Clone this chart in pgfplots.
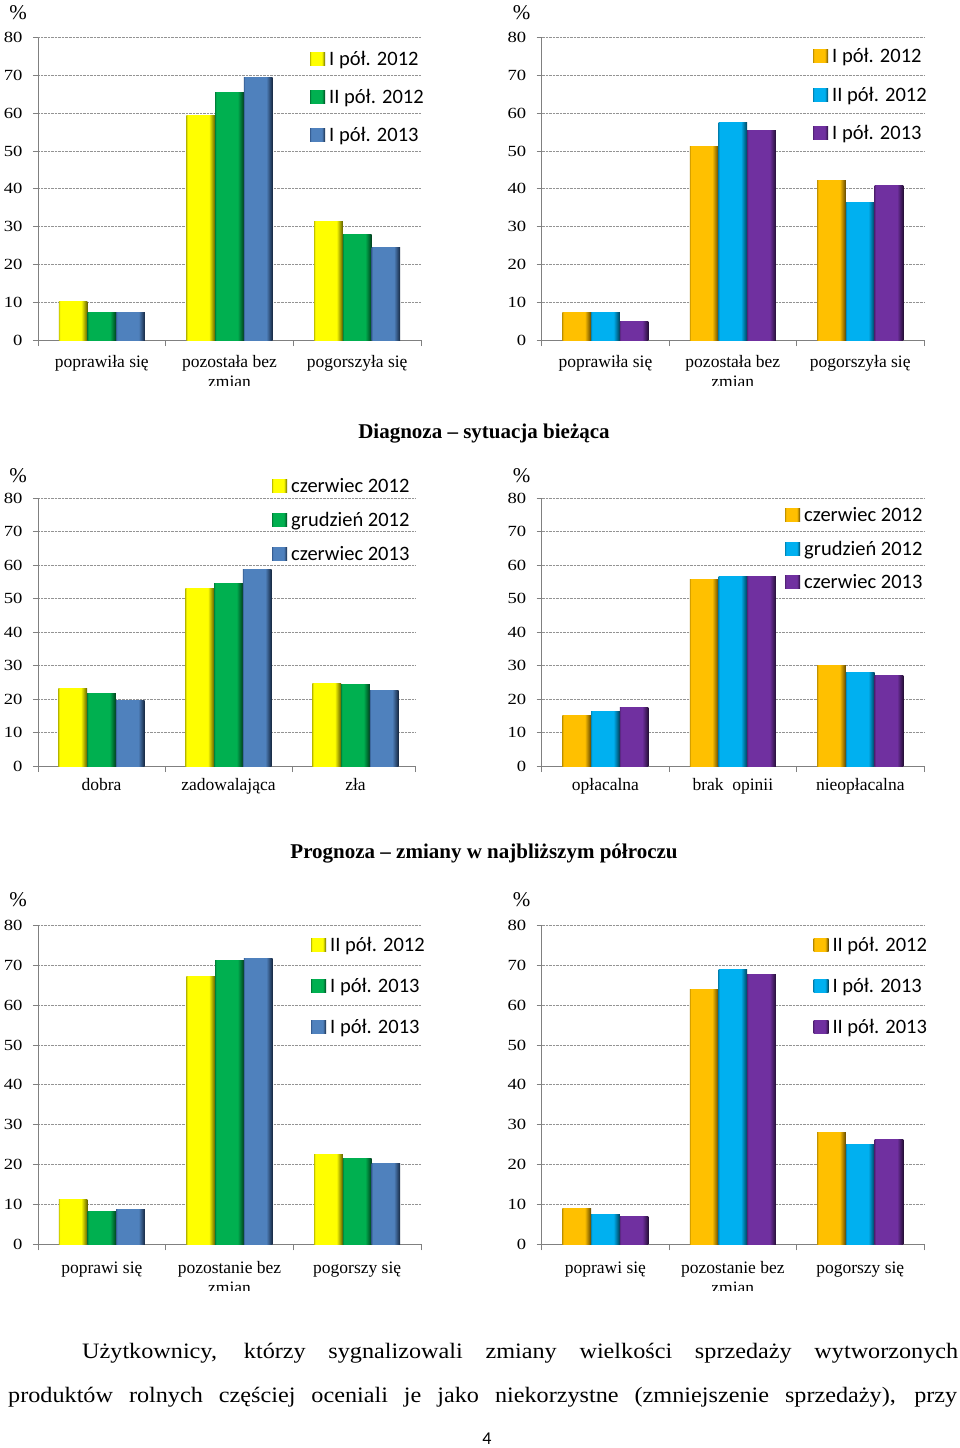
\documentclass[border=0pt]{standalone}
\usepackage{pgfplots}
\pgfplotsset{compat=1.18}
\usepackage{fontspec}
\setmainfont{Liberation Serif}
\newfontfamily\calib{Carlito}
\newfontfamily\wideserif[FakeStretch=1.2]{Liberation Serif}
\newfontfamily\textserif[FakeStretch=1.1]{Liberation Serif}

\definecolor{yB}{HTML}{FFFF00}\definecolor{yE}{HTML}{C8C800}\definecolor{yD}{HTML}{5E5E00}
\definecolor{gB}{HTML}{00B050}\definecolor{gE}{HTML}{00853C}\definecolor{gD}{HTML}{003F1C}
\definecolor{bB}{HTML}{4F81BD}\definecolor{bE}{HTML}{3A6399}\definecolor{bD}{HTML}{15263F}
\definecolor{oB}{HTML}{FFC000}\definecolor{oE}{HTML}{CC9A00}\definecolor{oD}{HTML}{5E4500}
\definecolor{cB}{HTML}{00B0F0}\definecolor{cE}{HTML}{008CC0}\definecolor{cD}{HTML}{003F58}
\definecolor{pB}{HTML}{7030A0}\definecolor{pE}{HTML}{58257E}\definecolor{pD}{HTML}{240E35}

\pgfdeclarehorizontalshading{shY}{100bp}{color(0bp)=(yE); color(25bp)=(yE); color(27bp)=(yB); color(64bp)=(yB); color(75bp)=(yD); color(100bp)=(yD)}
\pgfdeclarehorizontalshading{shG}{100bp}{color(0bp)=(gE); color(25bp)=(gE); color(27bp)=(gB); color(64bp)=(gB); color(75bp)=(gD); color(100bp)=(gD)}
\pgfdeclarehorizontalshading{shB}{100bp}{color(0bp)=(bE); color(25bp)=(bE); color(27bp)=(bB); color(64bp)=(bB); color(75bp)=(bD); color(100bp)=(bD)}
\pgfdeclarehorizontalshading{shO}{100bp}{color(0bp)=(oE); color(25bp)=(oE); color(27bp)=(oB); color(64bp)=(oB); color(75bp)=(oD); color(100bp)=(oD)}
\pgfdeclarehorizontalshading{shC}{100bp}{color(0bp)=(cE); color(25bp)=(cE); color(27bp)=(cB); color(64bp)=(cB); color(75bp)=(cD); color(100bp)=(cD)}
\pgfdeclarehorizontalshading{shP}{100bp}{color(0bp)=(pE); color(25bp)=(pE); color(27bp)=(pB); color(64bp)=(pB); color(75bp)=(pD); color(100bp)=(pD)}

\newcommand\legfont{\calib\fontsize{20.5bp}{22bp}\selectfont}

\pgfplotsset{
  bY/.style={draw=none, shade, shading=shY},
  bG/.style={draw=none, shade, shading=shG},
  bB/.style={draw=none, shade, shading=shB},
  bO/.style={draw=none, shade, shading=shO},
  bC/.style={draw=none, shade, shading=shC},
  bP/.style={draw=none, shade, shading=shP},
  chart/.style={
    scale only axis,
    ymin=0, ymax=80, ytick={0,10,...,80},
    xmin=-0.5, xmax=2.5,
    xtick={0,1,2},
    minor xtick={-0.5,0.5,1.5,2.5},
    axis x line*=bottom, axis y line*=left,
    tick align=outside,
    major tick length=5bp, minor tick length=6bp,
    tick style={gray, line width=0.8bp},
    major x tick style={draw=none},
    axis line style={gray, line width=0.8bp},
    ymajorgrids, major grid style={densely dotted, gray!85, line width=0.7bp},
    ybar=0pt, bar width=28.7bp,
    /pgf/number format/assume math mode=true,
    yticklabel style={font=\wideserif\fontsize{15.5bp}{16bp}\selectfont, xshift=-7bp},
    xticklabel style={font=\fontsize{17.5bp}{19.5bp}\selectfont, align=center},
    ylabel={\%},
    ylabel style={rotate=-90, at={(axis description cs:0,1)}, anchor=center, xshift=-20bp, font=\fontsize{21bp}{21bp}\selectfont},
    legend cell align=left,
    legend style={draw=none, fill=none, at={(axis description cs:0,1)}, anchor=north west, inner sep=0pt, column sep=4bp, font=\legfont,
      nodes={inner sep=0pt, anchor=base west, text height=13bp, text depth=4bp}},
    legend image code/.code={\path[##1, draw=none] (0bp,0bp) rectangle (15bp,13bp);},
  },
}

\newcommand\trio[5]{%
  \addplot[#1, bar shift=#2] coordinates {(0,#3)};
  \addplot[#1, bar shift=#2, forget plot] coordinates {(1,#4)};
  \addplot[#1, bar shift=#2, forget plot] coordinates {(2,#5)};
}

\begin{document}
\begin{tikzpicture}
\useasboundingbox (0bp,0bp) rectangle (960bp,-1448bp);

% ---------- Row 1 ----------
\begin{scope}
\clip (0bp,0bp) rectangle (960bp,-385bp);
\begin{axis}[chart, at={(38bp,-340bp)}, anchor=south west, width=383bp, height=302.5bp,
  xticklabels={poprawiła się, {pozostała bez\\zmian}, pogorszyła się},
  xticklabel style={yshift=-7bp},
  legend entries={I pół. 2012, II pół. 2012, I pół. 2013},
  legend style={xshift=272bp, yshift=-15bp, row sep=20.7bp},
  ylabel style={yshift=25bp}]
\trio{bY}{-28.7bp}{10.3}{59.5}{31.3}
\trio{bG}{0bp}{7.3}{65.5}{27.9}
\trio{bB}{28.7bp}{7.3}{69.3}{24.5}
\end{axis}
\begin{axis}[chart, at={(541.7bp,-340bp)}, anchor=south west, width=382.3bp, height=302.5bp,
  xticklabels={poprawiła się, {pozostała bez\\zmian}, pogorszyła się},
  xticklabel style={yshift=-7bp},
  legend entries={I pół. 2012, II pół. 2012, I pół. 2013},
  legend style={xshift=271.3bp, yshift=-12bp, row sep=21.5bp},
  ylabel style={yshift=25bp}]
\trio{bO}{-28.7bp}{7.3}{51.3}{42.2}
\trio{bC}{0bp}{7.3}{57.5}{36.3}
\trio{bP}{28.7bp}{5.0}{55.4}{40.8}
\end{axis}
\end{scope}

\node[anchor=base, inner sep=0pt, font=\bfseries\fontsize{21bp}{22bp}\selectfont] at (484bp,-438bp) {Diagnoza – sytuacja bieżąca};

% ---------- Row 2 ----------
\begin{axis}[chart, at={(38bp,-766bp)}, anchor=south west, width=377bp, height=267.7bp,
  xmax=2.469, minor xtick={-0.5,0.5,1.5,2.469},
  xticklabels={dobra, zadowalająca, zła},
  xticklabel style={yshift=-4bp},
  legend entries={czerwiec 2012, grudzień 2012, czerwiec 2013},
  legend style={xshift=234bp, yshift=18.8bp, row sep=17bp},
  ylabel style={yshift=23bp}]
\trio{bY}{-28.7bp}{23.1}{53.1}{24.7}
\trio{bG}{0bp}{21.6}{54.4}{24.4}
\trio{bB}{28.7bp}{19.7}{58.7}{22.5}
\end{axis}
\begin{axis}[chart, at={(541.7bp,-766bp)}, anchor=south west, width=382.3bp, height=267.7bp,
  xticklabels={opłacalna, brak\ \ opinii, nieopłacalna},
  xticklabel style={yshift=-4bp},
  legend entries={czerwiec 2012, grudzień 2012, czerwiec 2013},
  legend style={xshift=243.3bp, yshift=-10.2bp, row sep=16.5bp},
  ylabel style={yshift=23bp}]
\trio{bO}{-28.7bp}{15.2}{55.6}{30.1}
\trio{bC}{0bp}{16.2}{56.6}{28.0}
\trio{bP}{28.7bp}{17.4}{56.6}{26.9}
\end{axis}

\node[anchor=base, inner sep=0pt, font=\bfseries\fontsize{21bp}{22bp}\selectfont] at (484bp,-858bp) {Prognoza – zmiany w najbliższym półroczu};

% ---------- Row 3 ----------
\begin{scope}
\clip (0bp,-870bp) rectangle (960bp,-1290bp);
\begin{axis}[chart, at={(38bp,-1244.3bp)}, anchor=south west, width=383bp, height=319bp,
  xticklabels={poprawi się, {pozostanie bez\\zmian}, pogorszy się},
  xticklabel style={yshift=-9bp},
  legend entries={II pół. 2012, I pół. 2013, I pół. 2013},
  legend style={xshift=273bp, yshift=-13.2bp, row sep=23.8bp},
  ylabel style={yshift=26bp}]
\trio{bY}{-28.7bp}{11.3}{67.1}{22.4}
\trio{bG}{0bp}{8.3}{71.2}{21.5}
\trio{bB}{28.7bp}{8.7}{71.7}{20.3}
\end{axis}
\begin{axis}[chart, at={(541.7bp,-1244.3bp)}, anchor=south west, width=382.3bp, height=319bp,
  xticklabels={poprawi się, {pozostanie bez\\zmian}, pogorszy się},
  xticklabel style={yshift=-9bp},
  legend entries={II pół. 2012, I pół. 2013, II pół. 2013},
  legend style={xshift=271.6bp, yshift=-13.2bp, row sep=23.8bp},
  ylabel style={yshift=26bp}]
\trio{bO}{-28.7bp}{8.9}{64.0}{28.0}
\trio{bC}{0bp}{7.4}{68.8}{25.1}
\trio{bP}{28.7bp}{6.9}{67.6}{26.2}
\end{axis}
\end{scope}

% ---------- Text ----------
\node[anchor=base west, inner sep=0pt, font=\textserif\fontsize{22bp}{24bp}\selectfont] at (82bp,-1358bp)
  {\makebox[876bp][s]{Użytkownicy, którzy sygnalizowali zmiany wielkości sprzedaży wytworzonych}};
\node[anchor=base west, inner sep=0pt, font=\textserif\fontsize{22bp}{24bp}\selectfont] at (8bp,-1402bp)
  {\makebox[949bp][s]{produktów rolnych częściej oceniali je jako niekorzystne (zmniejszenie sprzedaży), przy}};
\node[anchor=base, inner sep=0pt, font=\calib\fontsize{18bp}{18bp}\selectfont] at (487bp,-1444bp) {4};
\end{tikzpicture}
\end{document}
